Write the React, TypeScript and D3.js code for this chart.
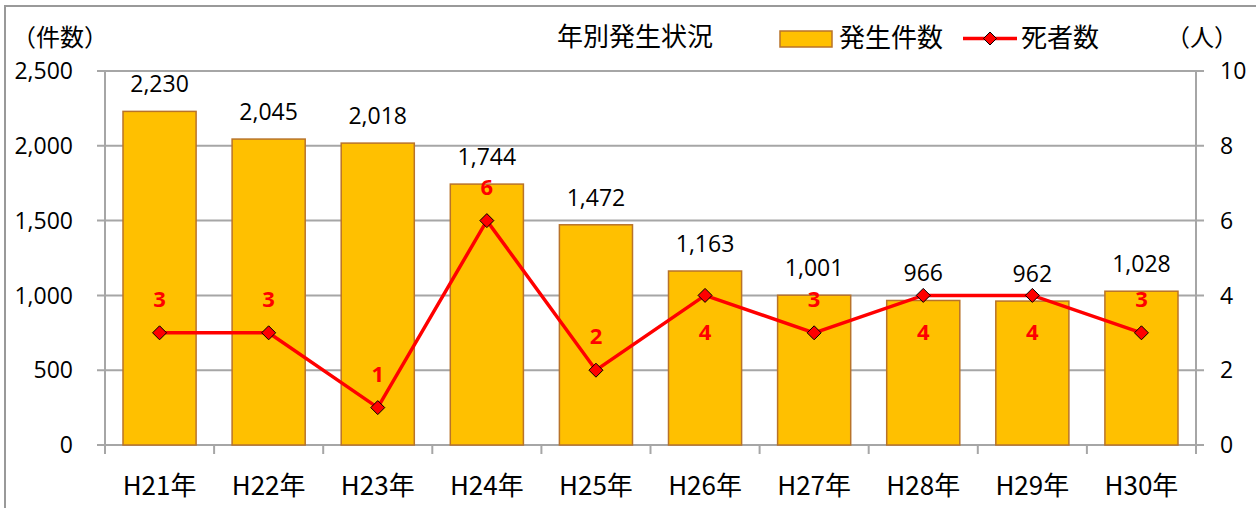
import React from "react";
import * as d3 from "d3";

const categories = ["H21年", "H22年", "H23年", "H24年", "H25年", "H26年", "H27年", "H28年", "H29年", "H30年"];
const incidents = [2230, 2045, 2018, 1744, 1472, 1163, 1001, 966, 962, 1028];
const deaths = [3, 3, 1, 6, 2, 4, 3, 4, 4, 3];
const deathLabelPos = ["above", "above", "above", "above", "above", "below", "above", "below", "below", "above"];
const leftTicks = [0, 500, 1000, 1500, 2000, 2500];
const rightTicks = [0, 2, 4, 6, 8, 10];

const W = 1256, H = 508;
const left = 105, right = 1196, top = 71, bottom = 445;
const FONT = "'Noto Sans CJK JP', 'Noto Sans', sans-serif";
const NUMFONT = "'Open Sans', 'Noto Sans', sans-serif";

export default function App() {
  const x = d3.scaleBand<string>().domain(categories).range([left, right]).paddingInner(0.33).paddingOuter(0.165);
  const xs = d3.scaleBand<string>().domain(categories).range([left, right]);
  const yL = d3.scaleLinear().domain([0, 2500]).range([bottom, top]);
  const yR = d3.scaleLinear().domain([0, 10]).range([bottom, top]);
  const cx = (c: string) => (xs(c) as number) + xs.bandwidth() / 2;
  const line = d3.line<number>().x((_, i) => cx(categories[i])).y((d) => yR(d));
  const diamond = (px: number, py: number, r = 7) => `M${px},${py - r}L${px + r},${py}L${px},${py + r}L${px - r},${py}Z`;
  const gridColor = "#A6A6A6";

  return (
    <svg width={W} height={H} style={{ position: "absolute", left: 0, top: 0, background: "#fff" }}>
      <rect x={5} y={6} width={W + 10} height={H + 10} fill="#fff" stroke="#999" strokeWidth={2} />
      {leftTicks.map((t) => (
        <line key={"g" + t} x1={97} x2={right + 8} y1={yL(t)} y2={yL(t)} stroke={gridColor} strokeWidth={2} />
      ))}
      <line x1={left} x2={left} y1={top} y2={bottom} stroke={gridColor} strokeWidth={2} />
      <line x1={right} x2={right} y1={top} y2={bottom} stroke={gridColor} strokeWidth={2} />
      {d3.range(categories.length + 1).map((i) => {
        const px = left + i * xs.bandwidth();
        return <line key={"t" + i} x1={px} x2={px} y1={bottom} y2={bottom + 9} stroke={gridColor} strokeWidth={2} />;
      })}
      {leftTicks.map((t) => (
        <text key={"l" + t} x={73} y={yL(t)} dy="0.36em" textAnchor="end" fontSize={23} fontFamily={NUMFONT} fill="#000">
          {d3.format(",")(t)}
        </text>
      ))}
      {rightTicks.map((t) => (
        <text key={"r" + t} x={1220} y={yR(t)} dy="0.36em" textAnchor="start" fontSize={23} fontFamily={NUMFONT} fill="#000">
          {t}
        </text>
      ))}
      {categories.map((c, i) => (
        <rect key={"b" + c} x={x(c)} y={yL(incidents[i])} width={x.bandwidth()} height={bottom - yL(incidents[i])}
          fill="#FFC000" stroke="#B8732A" strokeWidth={1.5} />
      ))}
      {categories.map((c, i) => (
        <text key={"bl" + c} x={cx(c)} y={yL(incidents[i]) - 19} textAnchor="middle" fontSize={23} fontFamily={NUMFONT} fill="#000">
          {d3.format(",")(incidents[i])}
        </text>
      ))}
      {categories.map((c) => (
        <text key={"x" + c} x={cx(c)} y={495} textAnchor="middle" fontSize={26} fontFamily={FONT} fill="#000">
          {c}
        </text>
      ))}
      <path d={line(deaths) as string} fill="none" stroke="#FF0000" strokeWidth={3.5} />
      {categories.map((c, i) => (
        <path key={"m" + c} d={diamond(cx(c), yR(deaths[i]))} fill="#FF0000" stroke="#000" strokeWidth={1} />
      ))}
      {categories.map((c, i) => (
        <text key={"dl" + c} x={cx(c)} y={yR(deaths[i]) + (deathLabelPos[i] === "above" ? -26 : 45)} textAnchor="middle"
          fontSize={22} fontWeight="bold" fontFamily={NUMFONT} fill="#FF0000">
          {deaths[i]}
        </text>
      ))}
      <text x={12} y={46} fontSize={24} fontFamily={FONT} fill="#000">（件数）</text>
      <text x={557} y={46} fontSize={26} fontFamily={FONT} fill="#000">年別発生状況</text>
      <rect x={780} y={31} width={52} height={16} fill="#FFC000" stroke="#B8732A" strokeWidth={1.5} />
      <text x={839} y={47} fontSize={26} fontFamily={FONT} fill="#000">発生件数</text>
      <line x1={963} x2={1017} y1={38.5} y2={38.5} stroke="#FF0000" strokeWidth={3.5} />
      <path d={diamond(990, 38.5, 6.5)} fill="#FF0000" stroke="#000" strokeWidth={1} />
      <text x={1021} y={47} fontSize={26} fontFamily={FONT} fill="#000">死者数</text>
      <text x={1166} y={46} fontSize={24} fontFamily={FONT} fill="#000">（人）</text>
    </svg>
  );
}
